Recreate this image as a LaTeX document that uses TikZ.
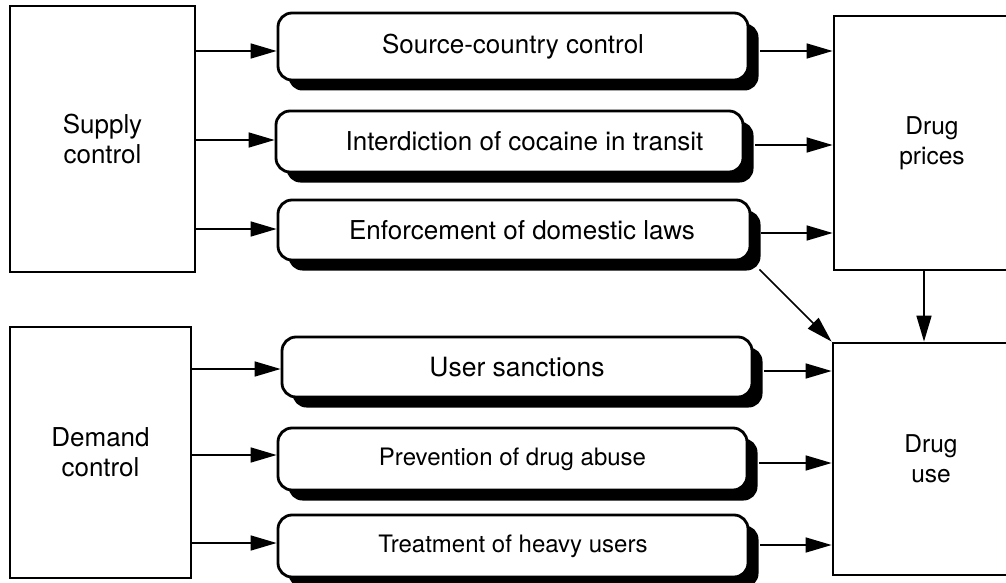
\documentclass[tikz,border=0pt]{standalone}
\usepackage{fontspec}
\setmainfont{TeX Gyre Heros}
\usetikzlibrary{arrows.meta,shadows}
\begin{document}
\begin{tikzpicture}[x=1pt,y=-1pt,
  txt/.style={font=\fontsize{#1}{30}\selectfont},
  bigbox/.style={draw, line width=2.8pt, align=center, inner sep=0pt},
  midbox/.style={draw, line width=2.8pt, rounded corners=14pt, fill=white, inner sep=0pt,
    drop shadow={shadow xshift=10.5pt, shadow yshift=-10.5pt, opacity=1, fill=black}},
  arr/.style={line width=1.6pt, -{Triangle[length=26pt,width=15pt]}}]
\useasboundingbox (0,0) rectangle (1006,583);

% outer boxes
\node[bigbox, txt=26, minimum width=185pt, minimum height=266pt] (supply) at (102.5,139) {Supply\\control};
\node[bigbox, txt=26, minimum width=181pt, minimum height=251pt] (demand) at (100.5,452.5) {Demand\\control};
\node[bigbox, txt=24.5, minimum width=196pt, minimum height=254pt] (prices) at (932,143) {Drug\\prices};
\node[bigbox, txt=24.5, minimum width=196pt, minimum height=232pt] (use) at (931,459) {Drug\\use};

% middle boxes
\node[midbox, txt=26, minimum width=470pt, minimum height=67pt] (src)   at (513,46.5)  {Source-country control};
\node[midbox, txt=26, minimum width=467pt, minimum height=61pt] (intd)  at (509.5,141.5) {\hspace*{30pt}Interdiction of cocaine in transit};
\node[midbox, txt=26, minimum width=472pt, minimum height=60pt] (enf)   at (514,230)   {\hspace*{16pt}Enforcement of domestic laws};
\node[midbox, txt=26.5, minimum width=470pt, minimum height=60pt] (user)  at (517,367)   {User sanctions};
\node[midbox, txt=24, minimum width=469pt, minimum height=62pt] (prev)  at (512.5,459) {Prevention of drug abuse};
\node[midbox, txt=24, minimum width=470pt, minimum height=62pt] (treat) at (513,546)   {Treatment of heavy users};

% supply arrows
\draw[arr] (supply.east |- 0,51)  -- (src.west |- 0,51);
\draw[arr] (supply.east |- 0,140) -- (intd.west |- 0,140);
\draw[arr] (supply.east |- 0,229) -- (enf.west |- 0,229);

% demand arrows
\draw[arr] (demand.east |- 0,369) -- (user.west |- 0,369);
\draw[arr] (demand.east |- 0,455) -- (prev.west |- 0,455);
\draw[arr] (demand.east |- 0,543) -- (treat.west |- 0,543);

% to drug prices
\draw[arr] ([xshift=11pt]src.east |- 0,51)   -- (prices.west |- 0,51);
\draw[arr] ([xshift=11pt]intd.east |- 0,145) -- (prices.west |- 0,145);
\draw[arr] ([xshift=10pt]enf.east |- 0,233)  -- (prices.west |- 0,233);

% to drug use
\draw[arr] ([xshift=11pt]user.east |- 0,371)  -- (use.west |- 0,371);
\draw[arr] ([xshift=11pt]prev.east |- 0,463)  -- (use.west |- 0,463);
\draw[arr] ([xshift=11pt]treat.east |- 0,545) -- (use.west |- 0,545);

\coordinate (enfcorner) at ([xshift=8pt,yshift=-8pt]enf.south east);
\draw[arr] (enfcorner) -- (use.north west);
\draw[arr] (prices.south -| 924,0) -- (use.north -| 924,0);
\end{tikzpicture}
\end{document}
